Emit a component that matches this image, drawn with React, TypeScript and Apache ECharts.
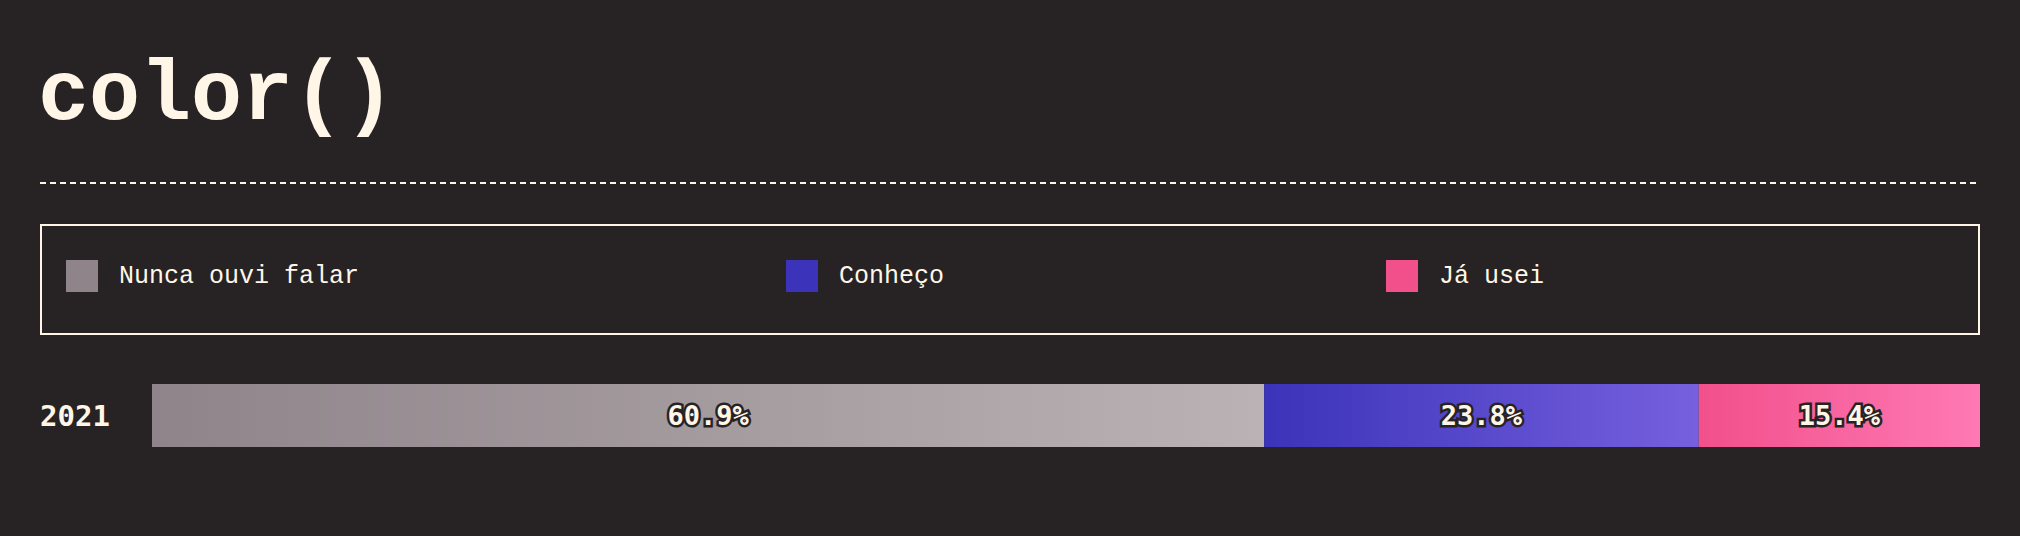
import React, { useEffect, useRef } from 'react';
import * as echarts from 'echarts';

const years = ['2021'];
const seriesNames = ['Nunca ouvi falar', 'Conheço', 'Já usei'];
const nuncaValues = [60.9];
const conhecoValues = [23.8];
const jaUseiValues = [15.4];

const legendLefts = [66, 786, 1386];
const solidColors = ['#8e8489', '#3b33b9', '#f1508b'];
const gradientEnds = [
  ['#8e8489', '#bab2b5'],
  ['#3b33b9', '#7660de'],
  ['#f1508b', '#ff79b4'],
];

const BG = '#272325';
const CREAM = '#fff6e8';

const App: React.FC = () => {
  const chartRef = useRef<HTMLDivElement>(null);

  useEffect(() => {
    document.body.style.margin = '0';
    document.body.style.background = BG;
    if (!chartRef.current) return;
    const chart = echarts.init(chartRef.current, null, { renderer: 'svg' });

    const valueSets = [nuncaValues, conhecoValues, jaUseiValues];
    const total = years.map((_, i) => valueSets.reduce((s, v) => s + v[i], 0));
    const maxTotal = Math.max(...total);

    const option: echarts.EChartsOption = {
      animation: false,
      backgroundColor: BG,
      graphic: [
        {
          type: 'text',
          left: 38,
          top: 54,
          style: {
            text: 'color()',
            fill: CREAM,
            font: 'bold 85px "Liberation Mono", monospace',
          },
        },
        {
          type: 'line',
          shape: { x1: 40, y1: 183, x2: 1980, y2: 183 },
          style: { stroke: CREAM, lineWidth: 2, lineDash: [6, 4] },
        },
        {
          type: 'rect',
          shape: { x: 41, y: 225, width: 1938, height: 109 },
          style: { fill: 'none', stroke: CREAM, lineWidth: 2 },
        },
      ],
      legend: seriesNames.map((name, i) => ({
        left: legendLefts[i],
        top: 260,
        padding: 0,
        itemWidth: 32,
        itemHeight: 32,
        icon: 'rect',
        selectedMode: false,
        data: [{ name, itemStyle: { color: solidColors[i] } }],
        textStyle: {
          color: CREAM,
          fontSize: 25,
          fontFamily: '"Liberation Mono", monospace',
          padding: [12, 0, 0, 16],
        },
      })),
      grid: { left: 152, right: 40, top: 384, height: 63 },
      xAxis: { type: 'value', min: 0, max: maxTotal, show: false },
      yAxis: {
        type: 'category',
        data: years,
        axisLine: { show: false },
        axisTick: { show: false },
        axisLabel: {
          align: 'left',
          margin: 112,
          color: CREAM,
          fontSize: 29,
          fontWeight: 'bold',
          fontFamily: '"DejaVu Sans Mono", monospace',
        },
      },
      series: seriesNames.map((name, i) => ({
        name,
        type: 'bar',
        stack: 'total',
        barWidth: '100%',
        data: valueSets[i],
        itemStyle: {
          color: new echarts.graphic.LinearGradient(0, 0, 1, 0, [
            { offset: 0, color: gradientEnds[i][0] },
            { offset: 1, color: gradientEnds[i][1] },
          ]),
        },
        label: {
          show: true,
          position: 'inside',
          formatter: (p: any) => `${p.value}%`,
          color: CREAM,
          fontSize: 27,
          fontWeight: 'bold',
          fontFamily: '"DejaVu Sans Mono", monospace',
          textBorderColor: BG,
          textBorderWidth: 5,
        },
      })),
    };

    chart.setOption(option);
    return () => chart.dispose();
  }, []);

  return <div ref={chartRef} style={{ width: 2020, height: 536 }} />;
};

export default App;
